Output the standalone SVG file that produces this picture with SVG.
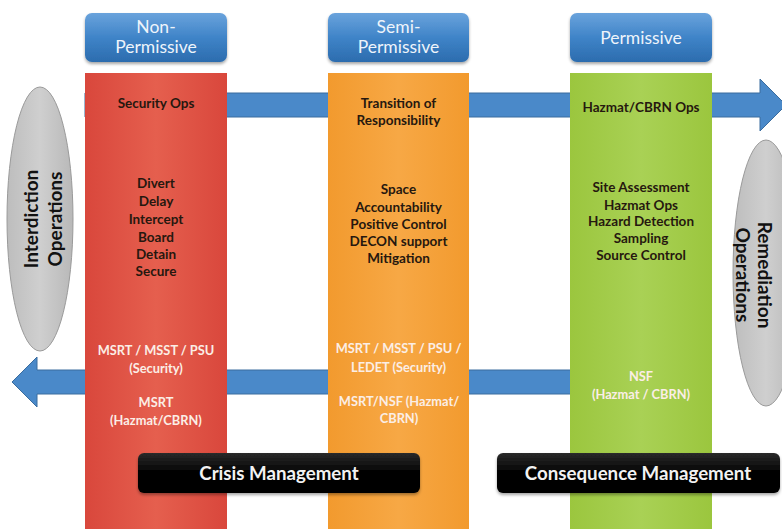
<svg xmlns="http://www.w3.org/2000/svg" width="782" height="529" viewBox="0 0 782 529">
<defs>
<linearGradient id="gHead" x1="0" y1="0" x2="0" y2="1">
<stop offset="0" stop-color="#6aa3dc"/><stop offset="0.5" stop-color="#3f84c8"/><stop offset="1" stop-color="#2c6cae"/>
</linearGradient>
<linearGradient id="gRed" x1="0" y1="0" x2="1" y2="0">
<stop offset="0" stop-color="#d9473c"/><stop offset="0.5" stop-color="#e55f4e"/><stop offset="1" stop-color="#d9473c"/>
</linearGradient>
<linearGradient id="gOrange" x1="0" y1="0" x2="1" y2="0">
<stop offset="0" stop-color="#f29a2e"/><stop offset="0.5" stop-color="#f7a845"/><stop offset="1" stop-color="#f29a2e"/>
</linearGradient>
<linearGradient id="gGreen" x1="0" y1="0" x2="1" y2="0">
<stop offset="0" stop-color="#9bc63e"/><stop offset="0.5" stop-color="#a9d155"/><stop offset="1" stop-color="#9bc63e"/>
</linearGradient>
<linearGradient id="gGrey" x1="0" y1="0" x2="1" y2="0">
<stop offset="0" stop-color="#bdbdbd"/><stop offset="0.5" stop-color="#cfcfcf"/><stop offset="1" stop-color="#b8b8b8"/>
</linearGradient>
<linearGradient id="gBlack" x1="0" y1="0" x2="0" y2="1">
<stop offset="0" stop-color="#2a2a2a"/><stop offset="0.45" stop-color="#050505"/><stop offset="1" stop-color="#000"/>
</linearGradient>
<filter id="sh" x="-10%" y="-10%" width="125%" height="140%">
<feDropShadow dx="0" dy="2" stdDeviation="1.5" flood-color="#000" flood-opacity="0.35"/>
</filter>
<style>
.hdr{fill:url(#gHead);filter:url(#sh)}
.ht{font-family:Lato,"Open Sans",sans-serif;font-size:17.5px;fill:#eef4fb;text-anchor:middle}
.dk{font-family:Lato,"Open Sans",sans-serif;font-weight:bold;font-size:13.5px;fill:#26180f;text-anchor:middle}
.wt{font-family:Lato,"Open Sans",sans-serif;font-weight:bold;font-size:12.8px;fill:#fbeee6;text-anchor:middle}
.ell{fill:url(#gGrey);stroke:#9a9a9a;stroke-width:1}
.et{font-family:Lato,"Open Sans",sans-serif;font-weight:bold;font-size:19px;fill:#111;text-anchor:middle}
.arr{fill:#4a89c9;stroke:#3a6c9e;stroke-width:1}
.bb{fill:url(#gBlack);filter:url(#sh)}
.bt{font-family:Lato,"Open Sans",sans-serif;font-weight:bold;font-size:18.7px;fill:#f2f2f2;text-anchor:middle}
</style>
</defs>
<rect width="782" height="529" fill="#ffffff"/>

<g id="connectors">
<path class="arr" d="M85,93 H760 V79 L786,105 L760,131 V117 H85 Z"/>
<path class="arr" d="M575,370 H37 V357 L12,382 L37,407 V394 H575 Z"/>
</g>

<g id="interdiction">
<ellipse class="ell" cx="40" cy="219" rx="33" ry="132"/>
<text class="et" transform="translate(40,219) rotate(-90)"><tspan x="0" y="-2">Interdiction</tspan><tspan x="0" y="22">Operations</tspan></text>
</g>

<g id="remediation">
<ellipse class="ell" cx="766" cy="273" rx="33" ry="133"/>
<text class="et" transform="translate(745,275) rotate(90)"><tspan x="0" y="-13">Remediation</tspan><tspan x="0" y="9">Operations</tspan></text>
</g>

<g id="col-non-permissive">
<rect x="85" y="73" width="142" height="460" fill="url(#gRed)"/>
<rect class="hdr" x="85" y="13" width="142" height="49" rx="7"/>
<text class="ht"><tspan x="156" y="33">Non-</tspan><tspan x="156" y="53">Permissive</tspan></text>
<text class="dk" x="156" y="108">Security Ops</text>
<text class="dk"><tspan x="156" y="188">Divert</tspan><tspan x="156" y="206">Delay</tspan><tspan x="156" y="224">Intercept</tspan><tspan x="156" y="242">Board</tspan><tspan x="156" y="259">Detain</tspan><tspan x="156" y="276">Secure</tspan></text>
<text class="wt"><tspan x="156" y="355">MSRT / MSST / PSU</tspan><tspan x="156" y="373">(Security)</tspan><tspan x="156" y="407">MSRT</tspan><tspan x="156" y="425">(Hazmat/CBRN)</tspan></text>
</g>

<g id="col-semi-permissive">
<rect x="328" y="73" width="141" height="460" fill="url(#gOrange)"/>
<rect class="hdr" x="328" y="13" width="141" height="49" rx="7"/>
<text class="ht"><tspan x="398.5" y="33">Semi-</tspan><tspan x="398.5" y="53">Permissive</tspan></text>
<text class="dk"><tspan x="398.5" y="108">Transition of</tspan><tspan x="398.5" y="125">Responsibility</tspan></text>
<text class="dk"><tspan x="398.5" y="194">Space</tspan><tspan x="398.5" y="212">Accountability</tspan><tspan x="398.5" y="229">Positive Control</tspan><tspan x="398.5" y="246">DECON support</tspan><tspan x="398.5" y="263">Mitigation</tspan></text>
<text class="wt"><tspan x="398.5" y="353">MSRT / MSST /  PSU /</tspan><tspan x="398.5" y="372">LEDET (Security)</tspan><tspan x="399" y="406">MSRT/NSF (Hazmat/</tspan><tspan x="399" y="423">CBRN)</tspan></text>
</g>

<g id="col-permissive">
<rect x="570" y="73" width="142" height="460" fill="url(#gGreen)"/>
<rect class="hdr" x="570" y="13" width="142" height="49" rx="7"/>
<text class="ht" x="641" y="44">Permissive</text>
<text class="dk" x="641" y="112">Hazmat/CBRN Ops</text>
<text class="dk"><tspan x="641" y="192">Site Assessment</tspan><tspan x="641" y="210">Hazmat Ops</tspan><tspan x="641" y="226">Hazard Detection</tspan><tspan x="641" y="243">Sampling</tspan><tspan x="641" y="260">Source Control</tspan></text>
<text class="wt"><tspan x="641" y="381">NSF</tspan><tspan x="641" y="399">(Hazmat / CBRN)</tspan></text>
</g>

<g id="crisis-management">
<rect class="bb" x="138" y="453" width="282" height="40" rx="6"/>
<text class="bt" x="279" y="480">Crisis Management</text>
</g>

<g id="consequence-management">
<rect class="bb" x="497" y="453" width="283" height="40" rx="6"/>
<text class="bt" x="638" y="480">Consequence Management</text>
</g>
</svg>
